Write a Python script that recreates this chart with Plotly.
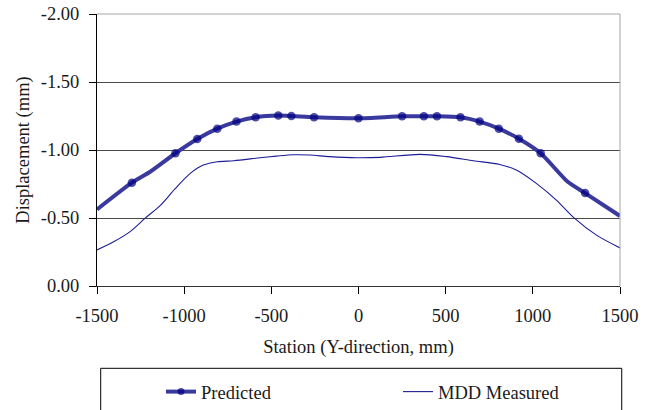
import plotly.graph_objects as go

# ---- data ----
pred_station = [-1500, -1300, -1195, -1050, -925, -810, -700, -590, -460, -385, -255,
                0, 250, 375, 450, 585, 695, 805, 920, 1045, 1200, 1300, 1500]
pred_disp = [-0.563, -0.760, -0.840, -0.976, -1.081, -1.157, -1.209, -1.241, -1.253, -1.250, -1.241,
             -1.233, -1.248, -1.248, -1.248, -1.241, -1.209, -1.157, -1.083, -0.976, -0.766, -0.683, -0.515]
pred_marked_stations = [-1300, -1050, -925, -810, -700, -590, -460, -385, -255,
                        0, 250, 375, 450, 585, 695, 805, 920, 1045, 1300]

mdd_station = [-1500, -1405, -1310, -1225, -1135, -1050, -965, -890, -810, -715, -565, -470,
               -375, -280, -165, -10, 125, 355, 505, 660, 810, 905, 1020, 1135, 1240, 1365, 1500]
mdd_disp = [-0.265, -0.325, -0.400, -0.497, -0.595, -0.718, -0.828, -0.889, -0.914, -0.921, -0.943, -0.955,
            -0.965, -0.963, -0.951, -0.943, -0.946, -0.968, -0.951, -0.921, -0.894, -0.853, -0.755, -0.632,
            -0.497, -0.374, -0.280]

x_ticks = [-1500, -1000, -500, 0, 500, 1000, 1500]
y_ticks = [0.0, -0.5, -1.0, -1.5, -2.0]

FONT = "Liberation Serif"
TXT = "#1a1a1a"

marker_sizes = [8.5 if s in pred_marked_stations else 0 for s in pred_station]

fig = go.Figure()
fig.add_trace(go.Scatter(
    x=pred_station, y=pred_disp, name="Predicted", mode="lines+markers",
    line=dict(color="#3a3a9e", width=4, shape="spline", smoothing=0.6),
    marker=dict(color="#000080", size=marker_sizes, line=dict(width=0)),
    legend="legend", showlegend=True,
))
fig.add_trace(go.Scatter(
    x=mdd_station, y=mdd_disp, name="MDD Measured", mode="lines",
    line=dict(color="#1c1c96", width=1.1, shape="spline", smoothing=0.8),
    legend="legend2", showlegend=True,
))

legend_common = dict(orientation="h", yanchor="middle", xanchor="left",
                     bgcolor="rgba(0,0,0,0)", borderwidth=0,
                     font=dict(family=FONT, size=18.5, color=TXT))

fig.update_layout(
    width=651, height=410,
    showlegend=True,
    margin=dict(l=97, r=31, t=14, b=124, autoexpand=False),
    paper_bgcolor="white", plot_bgcolor="white",
    font=dict(family=FONT, size=18.5, color=TXT),
    xaxis=dict(
        range=[-1500, 1500], tickvals=x_ticks, ticktext=[str(v) for v in x_ticks],
        ticks="outside", ticklen=7, tickcolor="#000", tickwidth=1,
        showline=True, linecolor="#333", linewidth=1,
        showgrid=False, zeroline=False, ticklabelstandoff=6,
        title=dict(text="Station (Y-direction, mm)", standoff=14,
                   font=dict(family=FONT, size=18.5, color=TXT)),
    ),
    yaxis=dict(
        range=[0, -2], tickvals=y_ticks, ticktext=["%.2f" % v for v in y_ticks],
        ticks="outside", ticklen=7, tickcolor="#000", tickwidth=1,
        showline=True, linecolor="#000", linewidth=1,
        showgrid=True, gridcolor="#4a4a4a", gridwidth=1,
        zeroline=False, ticklabelstandoff=6,
        title=dict(text="Displacement (mm)", standoff=6,
                   font=dict(family=FONT, size=18.5, color=TXT)),
    ),
    legend=dict(x=0.1224, y=-0.39, **legend_common),
    legend2=dict(x=0.5755, y=-0.39, **legend_common),
    shapes=[
        # top and right plot border (light gray)
        dict(type="line", xref="paper", yref="paper", x0=0, x1=1, y0=1, y1=1,
             line=dict(color="#a6a6a6", width=1), layer="above"),
        dict(type="line", xref="paper", yref="paper", x0=1, x1=1, y0=0, y1=1,
             line=dict(color="#a6a6a6", width=1), layer="above"),
        # legend frame
        dict(type="rect", xref="paper", yref="paper", x0=0.0071, x1=1.0033, y0=-0.3026, y1=-0.6,
             line=dict(color="#000", width=1), fillcolor="rgba(0,0,0,0)"),
    ],
)

fig.write_html("out.html")
